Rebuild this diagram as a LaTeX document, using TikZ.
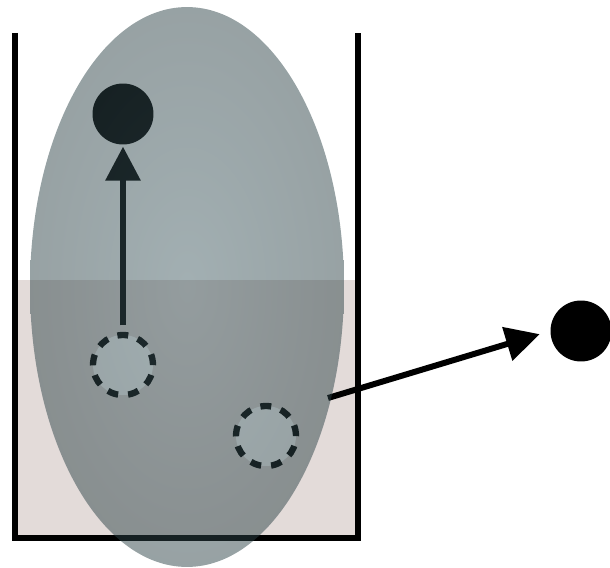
\documentclass[tikz,border=0pt]{standalone}
\usepackage{xcolor}
\usepackage{tikz}
\usetikzlibrary{arrows.meta,shapes.geometric}

\definecolor{cellgray}{RGB}{43,65,69}
\definecolor{cellcore}{RGB}{66,92,98}
\definecolor{liquid}{RGB}{227,219,217}

\begin{document}
\begin{tikzpicture}[
    x=0.02cm,
    y=-0.02cm,
    >={Triangle[length=19.3pt,width=19.3pt]},
    wall/.style={
        draw=black,
        line width=3.4pt,
        miter limit=4
    },
    particle/.style={
        circle,
        fill=black,
        inner sep=0pt,
        minimum size=1.22cm
    },
    ghost/.style={
        circle,
        draw=black,
        fill=white,
        line width=3.6pt,
        dash pattern=on 6.2pt off 5.7pt,
        inner sep=0pt,
        minimum size=1.2cm
    },
    move/.style={
        ->,
        line width=3.4pt
    },
    cell/.style={
        ellipse,
        inner color=cellcore,
        outer color=cellgray,
        fill opacity=0.49,
        inner sep=0pt,
        minimum width=6.28cm,
        minimum height=11.2cm
    }
]
\useasboundingbox (0,0) rectangle (610,568);

% Beaker with its liquid
\fill[liquid] (15,280) rectangle (358,538);
\draw[wall] (15,33) -- (15,538) -- (358,538) -- (358,33);

% Former places of the particles
\node[ghost] (low) at (123,365) {};
\node[ghost] (side) at (266,436) {};

% Particle moved up inside the cell
\node[particle] (top) at (123,114) {};
\draw[move, shorten <=3.7pt, shorten >=1pt] (low) -- (top);

% Particle moved out of the cell
\node[particle] (out) at (581,331) {};
\coordinate (exit) at (328,398);
\draw[move, shorten >=6.2pt] (exit) -- (out.west);

% The cell over everything
\node[cell] (body) at (187,287) {};

\end{tikzpicture}
\end{document}
